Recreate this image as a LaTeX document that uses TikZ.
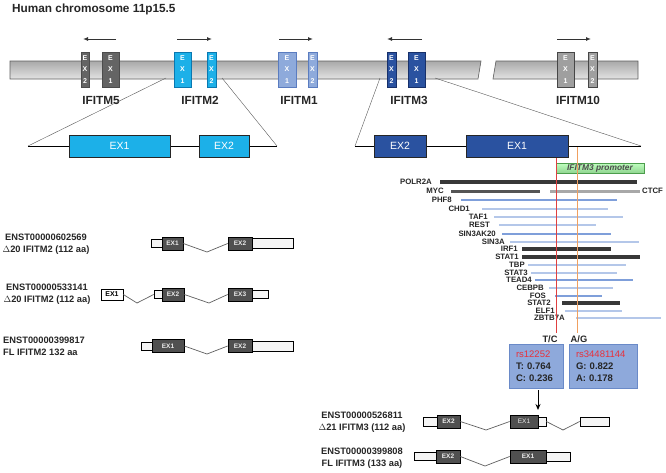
\documentclass[tikz,border=0pt]{standalone}
\usepackage{fontspec}
\setmainfont{Liberation Sans}
\usetikzlibrary{arrows.meta}
\definecolor{cyanx}{HTML}{1CB0E8}
\definecolor{cyanb}{HTML}{0A78B0}
\definecolor{lblue}{HTML}{8EAADB}
\definecolor{lblueb}{HTML}{5A7CC0}
\definecolor{dblue}{HTML}{2A52A0}
\definecolor{dblueb}{HTML}{17306A}
\definecolor{tfdark}{HTML}{383838}
\definecolor{tfmyc}{HTML}{555555}
\definecolor{tfctcf}{HTML}{A8A8A8}
\definecolor{tfmed}{HTML}{7F9FDA}
\definecolor{tflight}{HTML}{B4C7E9}
\definecolor{snpfill}{HTML}{8EA9DB}
\definecolor{snpbord}{HTML}{6A8AC8}
\definecolor{snpred}{HTML}{E8303A}
\definecolor{redline}{HTML}{E04040}
\definecolor{orline}{HTML}{F0A060}
\definecolor{cdsfill}{HTML}{505050}
\begin{document}
\begin{tikzpicture}[x=1pt,y=-1pt,
  glabel/.style={font=\fontsize{11.8}{13}\selectfont\bfseries, inner sep=0, text=black!85},
  chrex/.style={draw, inner sep=0, minimum height=35pt, text=white, align=center,
    font=\fontsize{7}{11.5}\selectfont\bfseries, line width=0.6pt},
  dirarrow/.style={-{Latex[length=5pt,width=4pt]}, line width=1pt, black!80},
  zoomline/.style={gray!70!black, line width=0.4pt},
  geneline/.style={black, line width=0.8pt},
  bigex/.style={draw=black!85, line width=0.8pt, inner sep=0, minimum height=22pt,
    text=white, font=\fontsize{10.5}{12}\selectfont},
  tflab/.style={font=\fontsize{7.8}{8}\selectfont\bfseries, anchor=east, inner sep=0, text=black!85},
  txlab/.style={font=\fontsize{9.3}{12}\selectfont\bfseries, inner sep=0, text=black!85},
  cds/.style={draw=black, fill=cdsfill, line width=0.7pt, inner sep=0, minimum height=13pt,
    text=white!85!gray, font=\fontsize{6.5}{7}\selectfont\bfseries},
  utr/.style={draw=black, fill=gray!8, line width=0.7pt, inner sep=0, minimum height=9pt},
  intron/.style={gray!75!black, line width=0.7pt},
  snpbox/.style={draw=snpbord, fill=snpfill, line width=0.6pt, inner xsep=7pt, inner ysep=0,
    minimum height=44pt, align=left, font=\fontsize{9.5}{11.8}\selectfont\bfseries, text=black!85},
]
\useasboundingbox (0,0) rectangle (666,472);
\fill[white] (0,0) rectangle (666,472);

% title
\node[glabel, anchor=base west] (title) at (12,12.5) {Human chromosome 11p15.5};

% chromosome bar
\shade[top color=gray!68, bottom color=gray!22, draw=gray!75!black, line width=0.6pt]
  (10,61) -- (481,61) -- (478,79) -- (10,79) -- cycle;
\shade[top color=gray!68, bottom color=gray!22, draw=gray!75!black, line width=0.6pt]
  (496,61) -- (638,61) -- (638,79) -- (493,79) -- cycle;

% chromosome exons
\node[chrex, fill=gray!65!black!90, draw=black!70, minimum width=8pt] (m5x2) at (85,69.5) {E\\X\\2};
\node[chrex, fill=gray!65!black!90, draw=black!70, minimum width=17pt] (m5x1) at (110.5,69.5) {E\\X\\1};
\node[chrex, fill=cyanx, draw=cyanb, minimum width=17pt] (m2x1) at (182.5,69.5) {E\\X\\1};
\node[chrex, fill=cyanx, draw=cyanb, minimum width=9pt] (m2x2) at (211.5,69.5) {E\\X\\2};
\node[chrex, fill=lblue, draw=lblueb, minimum width=18pt] (m1x1) at (287,69.5) {E\\X\\1};
\node[chrex, fill=lblue, draw=lblueb, minimum width=9pt] (m1x2) at (312.5,69.5) {E\\X\\2};
\node[chrex, fill=dblue, draw=dblueb, minimum width=9pt] (m3x2) at (391.5,69.5) {E\\X\\2};
\node[chrex, fill=dblue, draw=dblueb, minimum width=17pt] (m3x1) at (416.5,69.5) {E\\X\\1};
\node[chrex, fill=gray!75, draw=gray!55!black, minimum width=17pt] (m10x1) at (565.5,69.5) {E\\X\\1};
\node[chrex, fill=gray!75, draw=gray!55!black, minimum width=9pt] (m10x2) at (592.5,69.5) {E\\X\\2};

% direction arrows
\coordinate (a5s) at (116,39); \coordinate (a5e) at (83,39);
\coordinate (a2s) at (177,39); \coordinate (a2e) at (212,39);
\coordinate (a1s) at (279,39); \coordinate (a1e) at (313,39);
\coordinate (a3s) at (422,39); \coordinate (a3e) at (387,39);
\coordinate (a10s) at (557,39); \coordinate (a10e) at (591,39);
\draw[dirarrow] (a5s) -- (a5e);
\draw[dirarrow] (a2s) -- (a2e);
\draw[dirarrow] (a1s) -- (a1e);
\draw[dirarrow] (a3s) -- (a3e);
\draw[dirarrow] (a10s) -- (a10e);

% gene labels
\node[glabel] (g5) at (101,100) {IFITM5};
\node[glabel] (g2) at (200,100) {IFITM2};
\node[glabel] (g1) at (299,100) {IFITM1};
\node[glabel] (g3) at (409,100) {IFITM3};
\node[glabel] (g10) at (578,100) {IFITM10};

% expanded IFITM2
\coordinate (z2a) at (166,78); \coordinate (z2b) at (222,78);
\coordinate (e2l) at (28,146); \coordinate (e2r) at (277,146);
\draw[zoomline] (z2a) -- (e2l);
\draw[zoomline] (z2b) -- (e2r);
\draw[geneline] (e2l) -- (e2r);
\node[bigex, fill=cyanx, minimum width=101pt] (b2x1) at (119.5,146) {EX1};
\node[bigex, fill=cyanx, minimum width=50pt] (b2x2) at (224,146) {EX2};

% expanded IFITM3
\coordinate (z3a) at (380,78); \coordinate (z3b) at (435,78);
\coordinate (e3l) at (355,146); \coordinate (e3r) at (641,146);
\draw[zoomline] (z3a) -- (e3l);
\draw[zoomline] (z3b) -- (e3r);
\draw[geneline] (e3l) -- (e3r);
\node[bigex, fill=dblue, minimum width=52pt] (b3x2) at (400,146) {EX2};
\node[bigex, fill=dblue, minimum width=102pt] (b3x1) at (517,146) {EX1};

% promoter
\node[draw=green!45!black!70, top color=green!25!white, bottom color=green!45!gray!60,
  line width=0.5pt, minimum width=88pt, minimum height=10pt, inner sep=0,
  font=\fontsize{8.4}{9}\selectfont\bfseries\itshape, text=black!70] (prom) at (600,168) {IFITM3 promoter};

% TF bars
\foreach \nm/\lx/\y/\bx/\ex/\col/\lw in {
  POLR2A/432/182/440/637/tfdark/3.2,
  MYC/444/191/451/540/tfmyc/3.0,
  PHF8/452/200/461/617/tfmed/2.6,
  CHD1/470/209/482/608/tflight/2.6,
  TAF1/488/217/494/623/tflight/2.6,
  REST/490/225/499/596/tflight/2.6,
  SIN3AK20/496/234/502/611/tfmed/2.6,
  SIN3A/505/242/510/639/tflight/2.6,
  IRF1/518/249/522/611/tfdark/3.2,
  STAT1/519/257/522/640/tfdark/3.2,
  TBP/525/265/528/626/tflight/2.6,
  STAT3/528/273/531/617/tflight/2.6,
  TEAD4/532/280/535/633/tfmed/2.6,
  CEBPB/544/288/549/613/tflight/2.6,
  FOS/546/296/555/602/tfmed/2.6,
  STAT2/551/303/562/620/tfdark/3.2,
  ELF1/555/311/565/622/tflight/2.6,
  ZBTB7A/565/318/576/661/tflight/2.6}{
  \node[tflab] (tf-\nm) at (\lx,\y) {\nm};
  \draw[\col, line width=\lw pt] (\bx,\y) -- (\ex,\y);
}
\draw[tfctcf, line width=3pt] (550,191) -- (640,191);
\node[tflab, anchor=west] (tf-CTCF) at (642,191) {CTCF};

% SNP lines
\coordinate (rl1) at (556,158); \coordinate (rl2) at (556,333);
\coordinate (ol1) at (577,147); \coordinate (ol2) at (577,333);
\draw[redline, line width=0.8pt] (rl1) -- (rl2);
\draw[orline, line width=0.8pt] (ol1) -- (ol2);

\node[font=\fontsize{9.3}{10}\selectfont\bfseries, inner sep=0, text=black!85] (tc) at (550,339) {T/C};
\node[font=\fontsize{9.3}{10}\selectfont\bfseries, inner sep=0, text=black!85] (ag) at (579,339) {A/G};

\node[snpbox, minimum width=54pt, text width=40pt] (snp1) at (536,366)
  {{\color{snpred}\mdseries rs12252}\\T: 0.764\\C: 0.236};
\node[snpbox, minimum width=68pt, text width=54pt] (snp2) at (603,366)
  {{\color{snpred}\mdseries rs34481144}\\G: 0.822\\A: 0.178};

% IFITM2 transcripts
\node[txlab, align=center] (t2l1) at (46,244.5) {ENST00000602569\\$\Delta$20 IFITM2 (112 aa)};
\node[txlab, align=center] (t2l2) at (47,294.5) {ENST00000533141\\$\Delta$20 IFITM2 (112 aa)};
\node[txlab, align=left, anchor=west] (t2l3) at (3,346.5) {ENST00000399817\\FL IFITM2 132 aa};

% row 1
\node[utr, minimum width=11pt, minimum height=8pt] (r1u1) at (156.5,243.5) {};
\node[cds, minimum width=21pt] (r1e1) at (172.5,243.5) {EX1};
\node[cds, minimum width=24pt] (r1e2) at (240,243.5) {EX2};
\node[utr, minimum width=41pt, minimum height=10pt] (r1u2) at (272.5,243.5) {};
\coordinate (r1v) at (207,252);
\draw[intron] (r1e1.east) -- (r1v) -- (r1e2.west);

% row 2
\node[draw=black, fill=white, line width=0.7pt, inner sep=0, minimum width=22pt, minimum height=11pt,
  font=\fontsize{7}{8}\selectfont\bfseries] (r2e1) at (112,294.5) {EX1};
\node[utr, minimum width=8pt, minimum height=8pt] (r2u1) at (158,294.5) {};
\node[cds, minimum width=22pt] (r2e2) at (173,294.5) {EX2};
\node[cds, minimum width=24pt] (r2e3) at (240,294.5) {EX3};
\node[utr, minimum width=16pt, minimum height=8pt] (r2u2) at (260,294.5) {};
\coordinate (r2v1) at (137,303); \coordinate (r2v2) at (209,303);
\draw[intron] (r2e1.east) -- (r2v1) -- (r2u1.west);
\draw[intron] (r2e2.east) -- (r2v2) -- (r2e3.west);

% row 3
\node[utr, minimum width=11pt, minimum height=8pt] (r3u1) at (146.5,346) {};
\node[cds, minimum width=32pt] (r3e1) at (168,346) {EX1};
\node[cds, minimum width=24pt] (r3e2) at (240,346) {EX2};
\node[utr, minimum width=41pt, minimum height=10pt] (r3u2) at (272.5,346) {};
\coordinate (r3v) at (207,354);
\draw[intron] (r3e1.east) -- (r3v) -- (r3e2.west);

% IFITM3 transcripts
\node[txlab, align=center] (t3l1) at (362,422.5) {ENST00000526811\\$\Delta$21 IFITM3 (112 aa)};
\node[txlab, align=center] (t3l2) at (362,458) {ENST00000399808\\FL IFITM3 (133 aa)};

% row 4
\node[utr, minimum width=14pt] (r4u1) at (430,421.5) {};
\node[cds, minimum width=23pt] (r4e2) at (448.5,421.5) {EX2};
\node[cds, minimum width=28pt, font=\fontsize{6.5}{7}\selectfont] (r4e1) at (524,421.5) {EX1};
\node[utr, minimum width=8pt] (r4u2) at (542,421.5) {};
\node[utr, minimum width=29pt] (r4u3) at (594.5,421.5) {};
\coordinate (r4v1) at (486,430); \coordinate (r4v2) at (563,430);
\draw[intron] (r4e2.east) -- (r4v1) -- (r4e1.west);
\draw[intron] (r4u2.east) -- (r4v2) -- (r4u3.west);

% row 5
\node[utr, minimum width=22pt, minimum height=8pt] (r5u1) at (425,456.5) {};
\node[cds, minimum width=24pt] (r5e2) at (448,456.5) {EX2};
\node[cds, minimum width=36pt] (r5e1) at (528,456.5) {EX1};
\node[utr, minimum width=24pt] (r5u2) at (558,456.5) {};
\coordinate (r5v) at (485,466);
\draw[intron] (r5e2.east) -- (r5v) -- (r5e1.west);

% arrow from SNP to transcript
\coordinate (arS) at (538,390); \coordinate (arE) at (538,410);
\draw[-{Stealth[length=6pt,width=5pt]}, line width=1pt] (arS) -- (arE);
\end{tikzpicture}
\end{document}
